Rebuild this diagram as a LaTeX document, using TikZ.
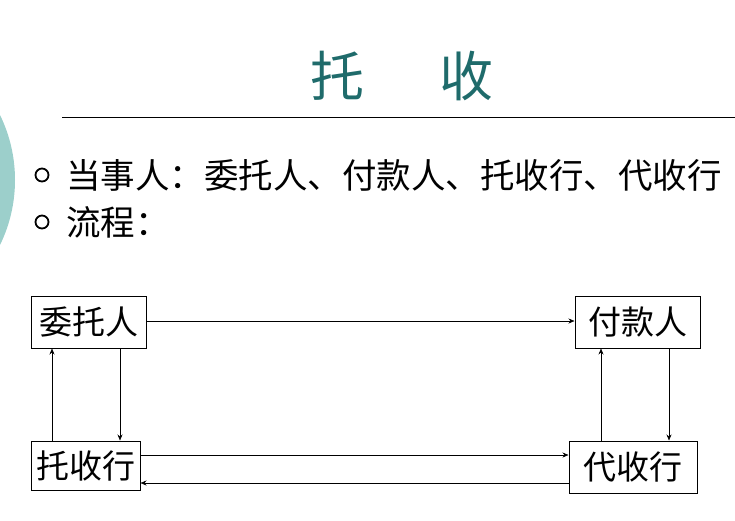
\documentclass[tikz,border=0pt]{standalone}
\usepackage{fontspec}
\setmainfont{Noto Sans CJK SC}
\definecolor{teal1}{HTML}{1F6B6B}
\definecolor{teal2}{HTML}{9CCFCB}
\tikzset{box/.style={draw,line width=1pt,inner sep=1pt,font=\fontsize{33}{35}\selectfont,anchor=center},
 arr/.style={-{Stealth[length=6pt,width=5pt]},line width=0.6pt}}
\usetikzlibrary{arrows.meta}
\begin{document}
\begin{tikzpicture}[x=1pt,y=-1pt]
\useasboundingbox (0,0) rectangle (735,520);
\fill[teal2] (-133,180) circle (148);
\node[text=teal1,font=\fontsize{54}{56}\selectfont] (title) at (402,76) {托\hspace{1.4em}收};
\draw[line width=1pt] (62,117) -- (735,117);
\draw[line width=1.8pt] (42,175) circle (6.5);
\draw[line width=1.8pt] (42,222) circle (6.5);
\node[anchor=west,font=\fontsize{34.5}{36}\selectfont,inner sep=0pt] (l1) at (66,175) {当事人：委托人、付款人、托收行、代收行};
\node[anchor=west,font=\fontsize{34.5}{36}\selectfont,inner sep=0pt] (l2) at (66,222) {流程：};
\node[box,minimum width=115,minimum height=52] (a) at (88.5,322) {委托人};
\node[box,minimum width=125,minimum height=52] (b) at (637.5,322) {付款人};
\node[box,minimum width=109,minimum height=49] (c) at (85.5,465.5) {托收行};
\node[box,minimum width=128,minimum height=52] (d) at (633,467) {代收行};
\draw[arr] (a.east |- 0,321) -- (b.west |- 0,321);
\draw[arr] (c.north -| 52,0) -- (a.south -| 52,0);
\draw[arr] (a.south -| 120,0) -- (c.north -| 120,0);
\draw[arr] (d.north -| 601,0) -- (b.south -| 601,0);
\draw[arr] (b.south -| 669,0) -- (d.north -| 669,0);
\draw[arr] (c.east |- 0,455) -- (d.west |- 0,455);
\draw[arr] (d.west |- 0,483) -- (c.east |- 0,483);
\end{tikzpicture}
\end{document}
